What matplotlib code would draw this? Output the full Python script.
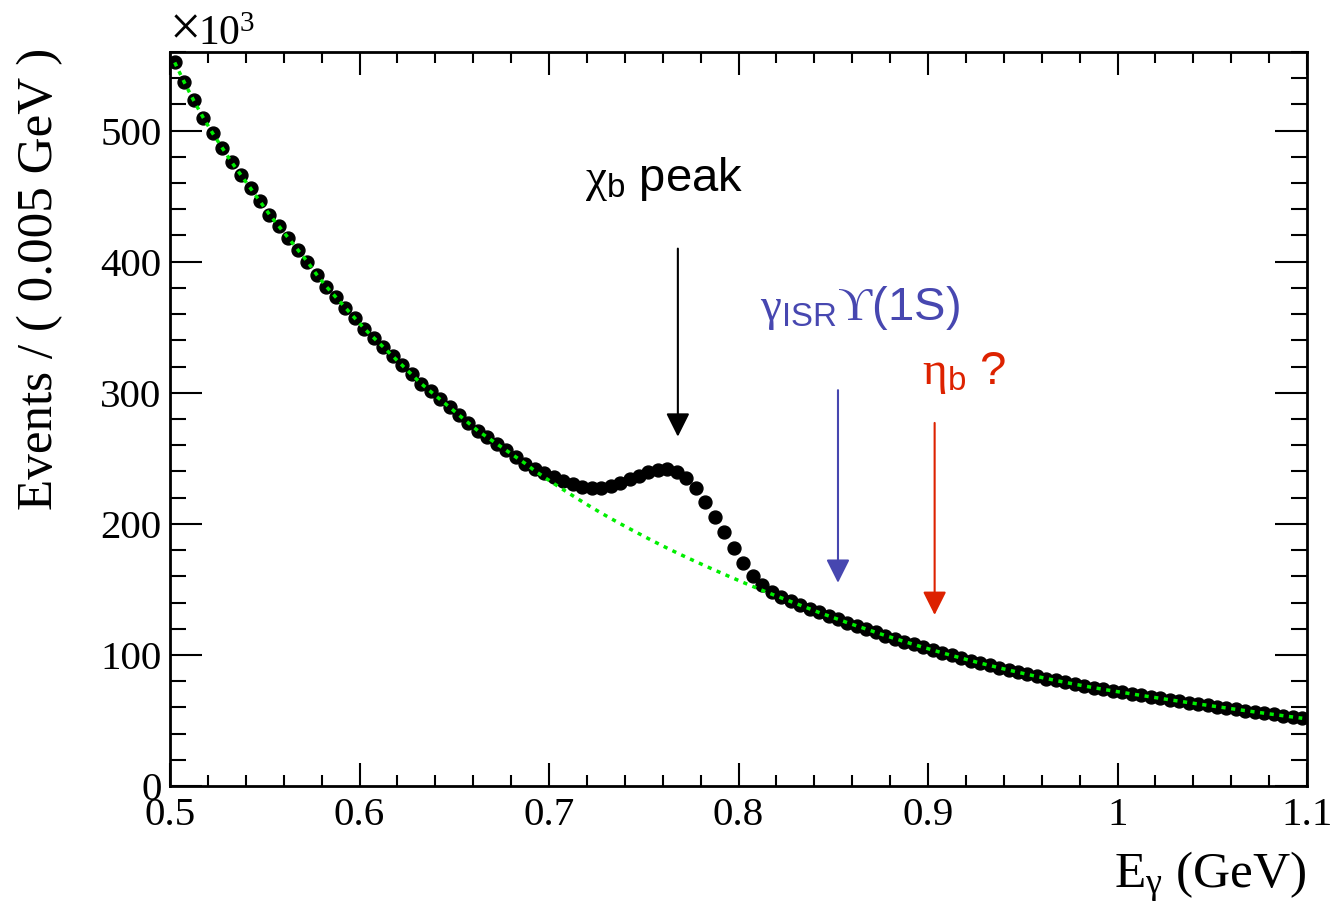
import numpy as np
import matplotlib
matplotlib.use("Agg")
import matplotlib.pyplot as plt
from matplotlib.ticker import MultipleLocator
from matplotlib.transforms import offset_copy

plt.rcParams['font.family'] = ['Liberation Serif', 'DejaVu Serif']
plt.rcParams['mathtext.fontset'] = 'custom'
plt.rcParams['mathtext.rm'] = 'Liberation Serif'
plt.rcParams['mathtext.it'] = 'Liberation Serif:italic'
plt.rcParams['mathtext.bf'] = 'Liberation Serif:bold'
plt.rcParams['mathtext.sf'] = 'Liberation Sans'
plt.rcParams['mathtext.fallback'] = 'stix'

# Photon-energy histogram: 0.5-1.1 GeV in 0.005 GeV bins
e_low, e_high, bin_width = 0.5, 1.1, 0.005
n_bins = int(round((e_high - e_low) / bin_width))
e_gamma = e_low + bin_width * (np.arange(n_bins) + 0.5)

# Events per bin, in units of 10^3
events = [
    552, 537, 523, 510, 498, 487, 476, 466, 456, 446,
    436, 427, 418, 409, 400,
    390, 381, 373, 365, 357, 349, 342, 335, 328, 321,
    314, 307, 301, 295, 289, 283, 277, 271, 266, 261,
    256, 251, 246, 242, 239,
    235.8, 232.8, 230.2, 228.2, 227.2, 227.5, 229.0, 231.3, 233.9, 236.6,
    239.2, 241.3, 241.8, 239.8, 235.0, 227.0, 217.0, 205.5, 193.5, 181.5,
    170.0, 160.5, 153.0,
    148.3, 144.5, 141.0, 138.2, 135.2, 132.4, 129.8, 127.2, 124.6, 122.1,
    119.7, 117.2, 114.8, 112.5, 110.2, 108.0, 105.8, 103.7, 101.6, 99.6,
    97.6, 95.7, 93.8, 92.0, 90.2, 88.5,
    86.8, 85.15, 83.55, 82.0, 80.5, 79.05, 77.65, 76.3, 75.0, 73.75,
    72.55, 71.4,
    70.25, 69.12, 68.0, 66.9, 65.8, 64.72, 63.65, 62.6, 61.56, 60.53,
    59.51, 58.5, 57.5, 56.51, 55.53, 54.56, 53.6, 52.65, 51.7,
]

# Smooth background fit below the chi_b bump (bins 38-66);
# elsewhere the fit lies on the data points
background_peak_region = [
    240.5, 235.6, 230.8, 226.1, 221.5, 217.0, 212.6, 208.3, 204.2, 200.2,
    196.3, 192.5, 188.7, 185.0, 181.4, 177.9, 174.5, 171.2, 167.9, 164.7,
    161.5, 158.4, 155.3, 152.3, 149.3, 146.4, 143.6, 140.8, 138.0,
]
background = events[:38] + background_peak_region + events[67:]

# Arrows marking the expected line positions: (E_gamma, tail, tip, colour)
markers = [
    (0.768, 410.0, 266.5, 'black'),
    (0.8525, 302.0, 155.0, '#4747b0'),
    (0.9035, 277.0, 130.5, '#dd2200'),
]

W, H = 1336, 905
fig = plt.figure(figsize=(W / 100, H / 100), dpi=100)
ax = fig.add_axes([170 / W, 1 - 786 / H, (1307 - 170) / W, (786 - 52) / H])

ax.plot(e_gamma, events, 'o', color='black', markersize=9.3, zorder=3)
ax.plot(e_gamma, background, color='#00ee00', lw=2.5, dashes=(1.2, 1.6),
        dash_capstyle='butt', zorder=4)

for x, tail, tip, col in markers:
    ax.annotate('', xy=(x, tip), xytext=(x, tail),
                arrowprops=dict(arrowstyle='-|>,head_length=0.4,head_width=0.2',
                                color=col, lw=1.5, mutation_scale=36,
                                shrinkA=0, shrinkB=0))

ax.text(0.719, 454, r'$\mathrm{\chi}_{\mathsf{b}}$ peak', fontsize=34,
        family='Liberation Sans', ha='left', va='baseline', color='black')
ax.text(0.8113, 355.5, r'$\mathrm{\gamma}_{\mathsf{ISR}}\mathrm{ϒ}$(1S)',
        fontsize=34, family='Liberation Sans', ha='left', va='baseline',
        color='#4747b0')
ax.text(0.8967, 307, r'$\mathrm{\eta}_{\mathsf{b}}$ ?', fontsize=34,
        family='Liberation Sans', ha='left', va='baseline', color='#dd2200')

ax.set_xlim(e_low, e_high)
ax.set_ylim(0, 560)
ax.xaxis.set_major_locator(MultipleLocator(0.1))
ax.xaxis.set_minor_locator(MultipleLocator(0.02))
ax.yaxis.set_major_locator(MultipleLocator(100))
ax.yaxis.set_minor_locator(MultipleLocator(20))
ax.xaxis.set_major_formatter(plt.FuncFormatter(lambda v, p: f'{v:g}'))

ax.tick_params(axis='both', which='both', direction='in', top=True, right=True,
               width=1.5, labelsize=29.5, colors='black')
ax.tick_params(axis='x', which='major', length=16.5, pad=8)
ax.tick_params(axis='x', which='minor', length=8)
ax.tick_params(axis='y', which='major', length=23, pad=6)
ax.tick_params(axis='y', which='minor', length=11.5)
for s in ax.spines.values():
    s.set_linewidth(2.0)

# Axis multiplier: a larger "×" followed by 10^3
ax.text(0.0, 1.0095, '×', transform=ax.transAxes, fontsize=40,
        ha='left', va='baseline')
ax.text(0.0, 1.0095, '10$^{3}$',
        transform=offset_copy(ax.transAxes, fig=fig, x=20, y=0, units='points'),
        fontsize=30, ha='left', va='baseline')

fig.text(40 / W, 1 - 48 / H, 'Events / ( 0.005 GeV )', rotation=90,
         fontsize=36.8, ha='center', va='top')
fig.text(1307 / W, 1 - 888 / H, r'E$_{\mathrm{\gamma}}$ (GeV)', fontsize=37,
         ha='right', va='baseline')

fig.savefig('out.png', dpi=100)
